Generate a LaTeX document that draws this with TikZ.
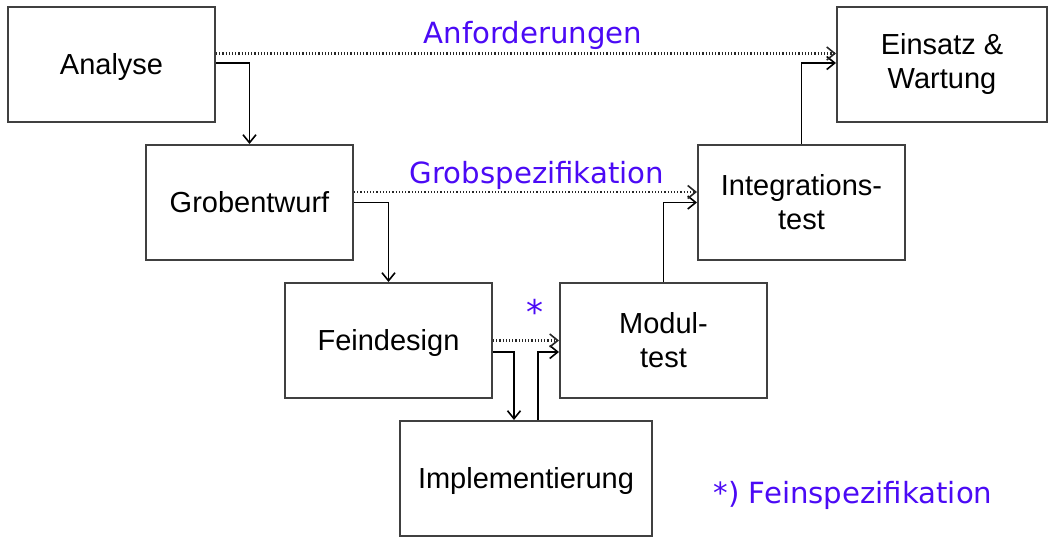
\documentclass[tikz,border=0pt]{standalone}
\usepackage{fontspec}
\setmainfont{Liberation Sans}
\newfontfamily\bluefont{DejaVu Sans}
\usetikzlibrary{arrows.meta}
\definecolor{lblue}{RGB}{75,10,245}
\tikzset{
  box/.style={draw=black!75, line width=1pt, fill=white, minimum width=103.5pt, minimum height=57.5pt, align=center, inner sep=0pt, font=\fontsize{14.5}{16}\selectfont},
  oneline/.style={text depth=1pt},
  arr/.style={draw=black, line width=0.8pt, -{Straight Barb[length=4pt,width=6.5pt,line width=0.8pt]}},
  dotarr/.style={draw=black!85, line width=1.1pt, dash pattern=on 0.6pt off 1pt, -{Straight Barb[length=4pt,width=6.5pt,line width=0.8pt]}},
  lbl/.style={text=lblue, font=\bluefont\fontsize{14.6}{16}\selectfont, inner sep=0pt}
}
\begin{document}
\begin{tikzpicture}[x=0.5pt,y=-0.5pt]
\useasboundingbox (0,0) rectangle (1055,544);
\node[box, oneline] (A) at (111.5,64.5) {Analyse};
\node[box, minimum width=105pt] (E) at (942,64.5) {Einsatz \&\\[1pt]Wartung};
\node[box, oneline] (G) at (249.5,202.5) {Grobentwurf};
\node[box] (I) at (801.5,202.5) {Integrations-\\[1pt]test};
\node[box, oneline] (F) at (388.5,340.5) {Feindesign};
\node[box] (M) at (663.5,340.5) {Modul-\\[1pt]test};
\node[box, oneline, minimum width=126pt] (P) at (526,478.5) {Implementierung};

\draw[arr] ([yshift=0.75pt]A.east) -| (G.north);
\draw[arr] (G.east) -| (F.north);
\draw[arr] ([yshift=-5.75pt]F.east) -| ([xshift=-6pt]P.north);
\draw[arr] ([xshift=6pt]P.north) |- ([yshift=-5.75pt]M.west);
\draw[arr] (M.north) |- (I.west);
\draw[arr] (I.north) |- ([yshift=0.75pt]E.west);

\draw[dotarr] ([yshift=5.5pt]A.east) -- ([yshift=5.5pt]E.west);
\draw[dotarr] ([yshift=5.25pt]G.east) -- ([yshift=5.25pt]I.west);
\draw[dotarr] (F.east) -- (M.west);

\node[lbl] (t1) at (533,35) {Anforderungen};
\node[lbl] (t2) at (537,175) {Grobspezifikation};
\node[lbl, font=\bluefont\fontsize{17}{18}\selectfont] (t3) at (535,312) {*};
\node[lbl] (t4) at (853,495) {*) Feinspezifikation};
\end{tikzpicture}
\end{document}
